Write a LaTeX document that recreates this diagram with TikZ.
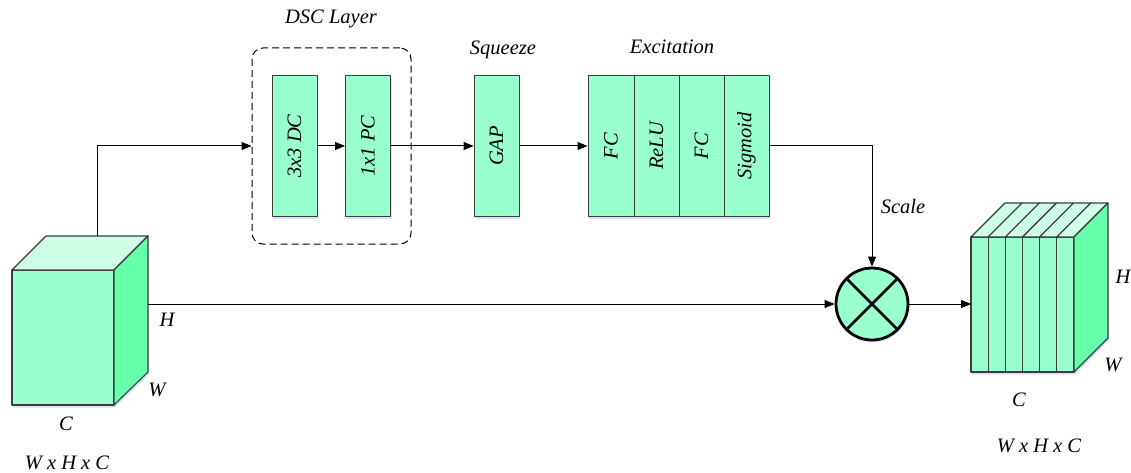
\documentclass[tikz,border=0pt]{standalone}
\usepackage{fontspec}
\setmainfont{Liberation Serif}
\usetikzlibrary{arrows.meta,shadows,calc}
\definecolor{mint}{RGB}{153,255,204}
\definecolor{minttop}{RGB}{204,255,230}
\definecolor{mintside}{RGB}{102,255,170}
\definecolor{edge}{RGB}{60,60,60}
\begin{document}
\begin{tikzpicture}[x=1pt, y=-1pt,
  font=\fontsize{20.5}{24}\selectfont\itshape,
  line join=round,
  shade/.style={drop shadow={shadow xshift=1pt, shadow yshift=-2.5pt, fill=blue!60!cyan, opacity=0.18}},
  layerbox/.style={draw=edge, fill=mint, line width=1pt, minimum width=45pt, minimum height=141pt, inner sep=0pt, shade},
  tag/.style={inner sep=0pt},
  conn/.style={draw=black, line width=1pt, -{Triangle[length=10pt, width=8pt]}},
  face/.style={draw=edge, line width=1.1pt}]

\useasboundingbox (0,0) rectangle (1131,473);

% input feature cube
\fill[shade, fill=white] (12,270) -- (46,236) -- (148,236) -- (148,372) -- (114,405) -- (12,405) -- cycle;
\filldraw[face, fill=mint] (12,270) rectangle (114,405);
\filldraw[face, fill=minttop] (12,270) -- (46,236) -- (148,236) -- (114,270) -- cycle;
\filldraw[face, fill=mintside] (114,270) -- (148,236) -- (148,372) -- (114,405) -- cycle;
\coordinate (intop) at (97,236);
\coordinate (inright) at (148,304);
\node[tag] (inH) at (167,320) {H};
\node[tag] (inW) at (157,390) {W};
\node[tag] (inC) at (66,424) {C};
\node[tag] (indim) at (67,463) {W x H x C};

% depthwise separable convolution
\node[draw=black, line width=1pt, dashed, dash pattern=on 7pt off 4pt, rounded corners=11pt,
      minimum width=159pt, minimum height=196pt, inner sep=0pt] (dsc) at (331.5,146) {};
\node[tag] (dsclbl) at (331,19) {DSC Layer};
\node[layerbox] (dc) at (294.5,146) {};
\node[tag, rotate=90] (dct) at (dc.center) {3x3 DC};
\node[layerbox] (pc) at (368,146) {};
\node[tag, rotate=90] (pct) at (pc.center) {1x1 PC};

% squeeze
\node[layerbox] (gap) at (496.5,146) {};
\node[tag, rotate=90] (gapt) at (gap.center) {GAP};
\node[tag] (sqlbl) at (503,50) {Squeeze};

% excitation
\node[layerbox, minimum width=46pt] (fc1) at (611,146) {};
\node[layerbox] (relu) at (656.5,146) {};
\node[layerbox] (fc2) at (701.5,146) {};
\node[layerbox] (sig) at (746.5,146) {};
\node[tag, rotate=90] (fc1t) at (fc1.center) {FC};
\node[tag, rotate=90] (relut) at (relu.center) {ReLU};
\node[tag, rotate=90] (fc2t) at (fc2.center) {FC};
\node[tag, rotate=90] (sigt) at (sig.center) {Sigmoid};
\node[tag] (exlbl) at (672,47) {Excitation};

% scaling
\node[circle, draw=black, line width=2.8pt, fill=mint, minimum size=72pt, inner sep=0pt, shade] (mul) at (872,304) {};
\draw[line width=2.8pt] ($(mul.center)!0.93!(mul.north west)$) -- ($(mul.center)!0.93!(mul.south east)$);
\draw[line width=2.8pt] ($(mul.center)!0.93!(mul.north east)$) -- ($(mul.center)!0.93!(mul.south west)$);
\node[tag] (scl) at (903,206) {Scale};

% output feature cube
\fill[shade, fill=white] (971,237) -- (1005,203) -- (1108,203) -- (1108,338) -- (1074,372) -- (971,372) -- cycle;
\foreach \i in {0,...,5} {
  \filldraw[face, fill=mint] ({971+\i*17.1667},237) rectangle ({971+(\i+1)*17.1667},372);
  \filldraw[face, fill=minttop] ({971+\i*17.1667},237) -- ({1005+\i*17.1667},203)
      -- ({1005+(\i+1)*17.1667},203) -- ({971+(\i+1)*17.1667},237) -- cycle;
}
\filldraw[face, fill=mintside] (1074,237) -- (1108,203) -- (1108,338) -- (1074,372) -- cycle;
\coordinate (outleft) at (971,304);
\node[tag] (outH) at (1123,277) {H};
\node[tag] (outW) at (1113,365) {W};
\node[tag] (outC) at (1019,400) {C};
\node[tag] (outdim) at (1039,446) {W x H x C};

% connectors
\draw[conn] (intop) |- (dsc.west);
\draw[conn] (dc.east) -- (pc.west);
\draw[conn] (pc.east) -- (gap.west);
\draw[conn] (gap.east) -- (fc1.west);
\draw[conn] (sig.east) -| (mul.north);
\draw[conn] (inright) -- (mul.west);
\draw[conn] (mul.east) -- (outleft);
\end{tikzpicture}
\end{document}
